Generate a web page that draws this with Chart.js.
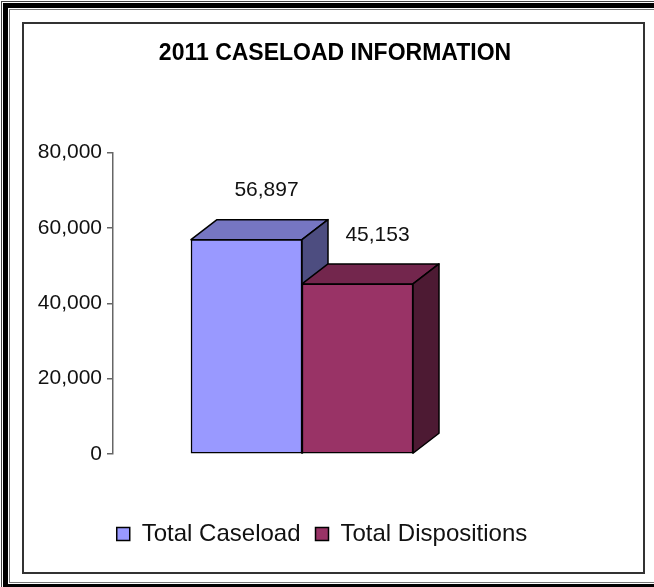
<!DOCTYPE html>
<html>
<head>
<meta charset="utf-8">
<title>2011 Caseload Information</title>
<script src="https://cdn.jsdelivr.net/npm/chart.js@4.4.0/dist/chart.umd.min.js"></script>
<style>
  html, body { margin: 0; padding: 0; background: #fff; overflow: hidden; }
  #page { width: 654px; height: 587px; position: relative; overflow: hidden; }
  .frame { position: absolute; box-sizing: border-box; }
  #f1 { left: 1px; top: 1px; width: 680px; height: 590px; border: 1px solid #444; }
  #f2 { left: 3px; top: 3px; width: 680px; height: 586px; border: 5px solid #000; }
  #f3 { left: 9px; top: 9px; width: 680px; height: 574px; border: 1px solid #777; }
  #box { left: 22px; top: 22px; width: 623px; height: 552px; border: 2px solid #333; }
  #chart { position: absolute; left: 0; top: 0; }
</style>
</head>
<body>
<div id="page">
  <div class="frame" id="f1"></div>
  <div class="frame" id="f2"></div>
  <div class="frame" id="f3"></div>
  <div class="frame" id="box"></div>
  <canvas id="chart" width="654" height="587"></canvas>
</div>

<script>
// ---- data ----
const categories = ["2011"];
const seriesNames = ["Total Caseload", "Total Dispositions"];
const caseload = [56897];
const dispositions = [45153];
const yMin = 0;
const yMax = 80000;
const yStep = 20000;

// ---- 3D look ----
const DX = 26;  // depth offset to the right
const DY = 20;  // depth offset upwards

Chart.defaults.font.family = "'Liberation Sans', Arial, sans-serif";
Chart.defaults.color = "#111";

function poly(ctx, pts, fill) {
  ctx.beginPath();
  ctx.moveTo(pts[0][0], pts[0][1]);
  for (let i = 1; i < pts.length; i++) ctx.lineTo(pts[i][0], pts[i][1]);
  ctx.closePath();
  ctx.fillStyle = fill;
  ctx.fill();
  ctx.stroke();
}

// top and side faces behind the front of each bar, plus the value labels
const bars3d = {
  id: "bars3d",
  afterLayout(chart) {
    // legend row sits a little left of the title
    chart.legend.left -= 13;
    chart.legend.right -= 13;
  },
  beforeDatasetsDraw(chart) {
    const ctx = chart.ctx;
    chart.data.datasets.forEach((ds, i) => {
      chart.getDatasetMeta(i).data.forEach((bar) => {
        const { x, y, base, width } = bar.getProps(["x", "y", "base", "width"], true);
        const l = x - width / 2, r = x + width / 2;
        ctx.save();
        ctx.lineWidth = 1.5;
        ctx.strokeStyle = "#000";
        ctx.lineJoin = "round";
        poly(ctx, [[l, y], [l + DX, y - DY], [r + DX, y - DY], [r, y]], ds.topColor);
        poly(ctx, [[r, y], [r + DX, y - DY], [r + DX, base - DY], [r, base]], ds.sideColor);
        ctx.restore();
      });
    });
  },
  afterDatasetsDraw(chart) {
    const ctx = chart.ctx;
    ctx.save();
    ctx.font = "21px 'Liberation Sans', Arial, sans-serif";
    ctx.fillStyle = "#111";
    ctx.textAlign = "center";
    ctx.textBaseline = "middle";
    chart.data.datasets.forEach((ds, i) => {
      chart.getDatasetMeta(i).data.forEach((bar, j) => {
        const { x, y } = bar.getProps(["x", "y"], true);
        ctx.fillText(ds.data[j].toLocaleString("en-US"), x + 20, y - DY - 29);
      });
    });
    ctx.restore();
  },
};

new Chart(document.getElementById("chart"), {
  type: "bar",
  data: {
    labels: categories,
    datasets: [
      {
        label: seriesNames[0],
        data: caseload,
        backgroundColor: "#9999FF",
        topColor: "#7676C2",
        sideColor: "#4D4D80",
        borderColor: "#000",
        borderWidth: 1.5,
        borderSkipped: false,
      },
      {
        label: seriesNames[1],
        data: dispositions,
        backgroundColor: "#993366",
        topColor: "#73264D",
        sideColor: "#4D1A33",
        borderColor: "#000",
        borderWidth: 1.5,
        borderSkipped: false,
      },
    ],
  },
  options: {
    responsive: false,
    animation: false,
    categoryPercentage: 1,
    barPercentage: 1,
    barThickness: 111,
    layout: { padding: { left: 30, right: 14, top: 30, bottom: 31 } },
    plugins: {
      title: {
        display: true,
        text: "2011 CASELOAD INFORMATION",
        color: "#000",
        font: { size: 23, weight: "bold" },
        padding: { top: 10, bottom: 85 },
      },
      legend: {
        position: "bottom",
        labels: {
          boxWidth: 13,
          boxHeight: 13,
          padding: 15,
          color: "#111",
          font: { size: 24 },
        },
      },
      tooltip: { enabled: false },
    },
    scales: {
      x: {
        display: true,
        ticks: { display: false },
        grid: { display: false },
        border: { display: false },
        afterFit: (s) => { s.height = 53; },
      },
      y: {
        min: yMin,
        max: yMax,
        ticks: {
          stepSize: yStep,
          padding: 5,
          color: "#111",
          font: { size: 21 },
          callback: (v) => v.toLocaleString("en-US"),
        },
        grid: { drawOnChartArea: false, drawTicks: true, tickLength: 6, color: "#666", lineWidth: 1.5 },
        border: { display: true, color: "#666", width: 1.5 },
        afterFit: (s) => { s.width = 83; },
      },
      // empty axis that keeps the plot narrow on the right
      spacer: {
        type: "linear",
        position: "right",
        display: true,
        ticks: { display: false },
        grid: { display: false },
        border: { display: false },
        afterFit: (s) => { s.width = 149; },
      },
    },
  },
  plugins: [bars3d],
});
</script>
</body>
</html>
